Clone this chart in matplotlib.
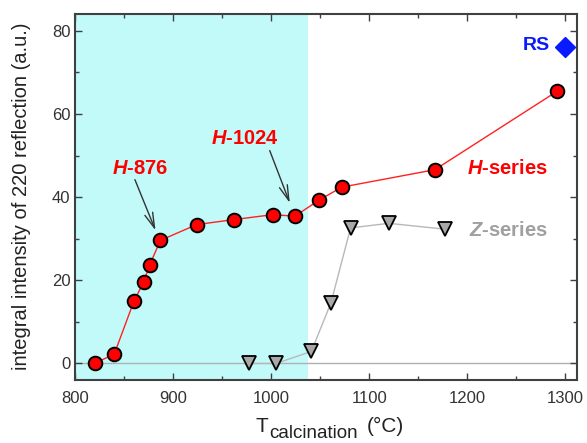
import matplotlib
matplotlib.use("Agg")
import matplotlib.pyplot as plt
from matplotlib.ticker import MultipleLocator

plt.rcParams['font.family'] = ['Liberation Sans', 'DejaVu Sans']
plt.rcParams['mathtext.fontset'] = 'custom'
plt.rcParams['mathtext.rm'] = 'Liberation Sans:bold'
plt.rcParams['mathtext.it'] = 'Liberation Sans:italic:bold'
plt.rcParams['mathtext.bf'] = 'Liberation Sans:bold'

# H-series
h_temp = [820, 840, 860, 870, 876, 887, 924, 962, 1002, 1024, 1049, 1072, 1167, 1292]
h_int = [0.0, 2.3, 15.0, 19.6, 23.7, 29.6, 33.4, 34.6, 35.8, 35.4, 39.3, 42.4, 46.6, 65.5]
# Z-series
z_temp = [977, 1005, 1041, 1061, 1081, 1120, 1177]
z_int = [0.0, 0.0, 2.9, 14.6, 32.6, 33.7, 32.3]
# reference sample
rs_temp = [1300]
rs_int = [76.2]

W, H = 587, 443
fig = plt.figure(figsize=(W / 100, H / 100), dpi=100)
ax = fig.add_axes([0.128, 0.142, 0.855, 0.826])

ax.axvspan(800, 1038, color='#c2fafa', zorder=0, lw=0)
ax.axhline(0, color='#b0b0b0', lw=1, zorder=1)

ax.plot(z_temp, z_int, '-', color='#b8b8b8', lw=1, zorder=2)
ax.plot(z_temp, z_int, 'v', ms=10, mfc='#a8a8a8', mec='black', mew=1.3, zorder=3)
ax.plot(h_temp, h_int, '-', color='#ff2020', lw=1, zorder=4)
ax.plot(h_temp, h_int, 'o', ms=9.8, mfc='#ff0000', mec='black', mew=1.4, zorder=5)
ax.plot(rs_temp, rs_int, 'D', ms=10, mfc='#0a1aff', mec='#0a1aff', zorder=5)

fs = 14.5
ax.text(1284, 76.4, 'RS', color='#0a1aff', fontsize=14, fontweight='bold', ha='right', va='center')
ax.text(1241, 47.0, r'$\mathit{H}$-series', color='#ff0000', fontsize=fs, fontweight='bold',
        ha='center', va='center')
ax.text(1242, 32.0, r'$\mathit{Z}$-series', color='#a0a0a0', fontsize=fs, fontweight='bold',
        ha='center', va='center')
ax.text(866, 47.0, r'$\mathit{H}$-876', color='#ff0000', fontsize=fs, fontweight='bold',
        ha='center', va='center')
ax.text(973, 54.2, r'$\mathit{H}$-1024', color='#ff0000', fontsize=fs, fontweight='bold',
        ha='center', va='center')

arrow = dict(arrowstyle='->,head_length=1.1,head_width=0.3', color='#333333', lw=1,
             shrinkA=0, shrinkB=0, mutation_scale=10)
ax.annotate('', xy=(882, 32.0), xytext=(861, 44.2), arrowprops=arrow)
ax.annotate('', xy=(1019, 38.6), xytext=(998.5, 51.2), arrowprops=arrow)

ax.set_xlim(800, 1312)
ax.set_ylim(-4, 84)
ax.xaxis.set_major_locator(MultipleLocator(100))
ax.xaxis.set_minor_locator(MultipleLocator(50))
ax.yaxis.set_major_locator(MultipleLocator(20))
ax.yaxis.set_minor_locator(MultipleLocator(10))
ax.tick_params(which='both', direction='in', top=True, right=True, colors='#404040',
               labelcolor='#333333', labelsize=12, width=1)
ax.tick_params(which='major', length=5)
ax.tick_params(which='minor', length=3)
ax.tick_params(axis='x', pad=8)
for s in ax.spines.values():
    s.set_color('#404040')
    s.set_linewidth(1.5)

# axis labels
lc = '#222222'
fig.text(22 / W, 1 - 196 / H, 'integral intensity of 220 reflection (a.u.)', rotation=90,
         fontsize=14.5, color=lc, ha='center', va='center')
fig.text(255 / W, 1 - 432 / H, 'T', fontsize=15, color=lc, ha='left', va='baseline')
fig.text(269 / W, 1 - 438 / H, 'calcination', fontsize=13.5, color=lc, ha='left', va='baseline')
fig.text(367 / W, 1 - 432 / H, '(°C)', fontsize=15, color=lc, ha='left', va='baseline')

fig.savefig('out.png', dpi=100)
